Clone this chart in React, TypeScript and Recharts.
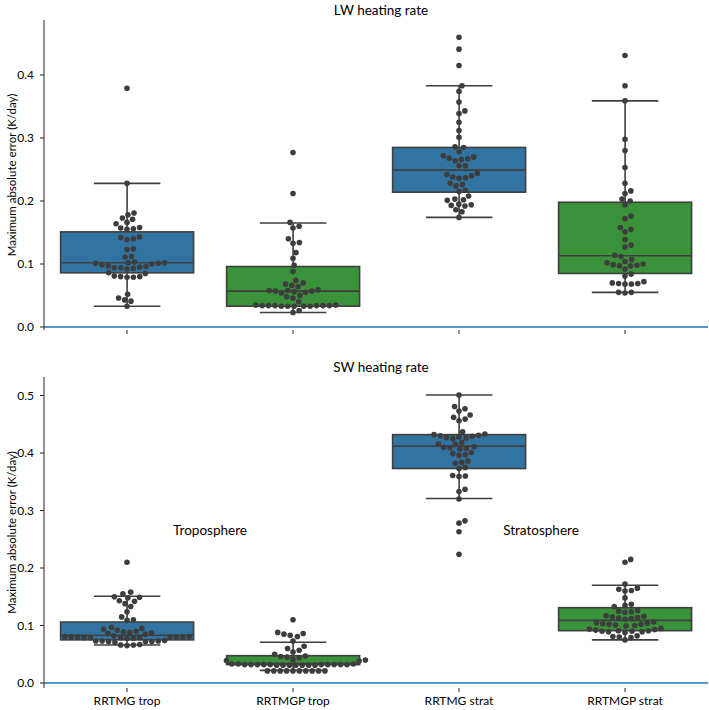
import { ComposedChart, Bar, Scatter, XAxis, YAxis, ReferenceLine } from 'recharts'

const categories = ['RRTMG trop', 'RRTMGP trop', 'RRTMG strat', 'RRTMGP strat']
const boxColors = ['#3274a1', '#3a923a', '#3274a1', '#3a923a']

// box statistics
const lwLow = [0.033, 0.023, 0.174, 0.055]
const lwQ1 = [0.086, 0.033, 0.214, 0.085]
const lwMed = [0.102, 0.057, 0.249, 0.113]
const lwQ3 = [0.151, 0.096, 0.285, 0.198]
const lwHigh = [0.228, 0.165, 0.383, 0.359]

const swLow = [0.066, 0.022, 0.321, 0.075]
const swQ1 = [0.075, 0.032, 0.373, 0.091]
const swMed = [0.083, 0.034, 0.412, 0.109]
const swQ3 = [0.106, 0.0475, 0.432, 0.131]
const swHigh = [0.151, 0.071, 0.501, 0.17]

// individual cases (swarm points)
const lwRrtmgTrop = [
  0.379, 0.228, 0.181, 0.178, 0.173, 0.171, 0.166, 0.164, 0.158, 0.157, 0.156, 0.155, 0.143, 0.142, 0.14,
  0.139, 0.124, 0.123, 0.112, 0.111, 0.103, 0.102, 0.102, 0.101, 0.101, 0.1, 0.099, 0.097, 0.096, 0.095,
  0.094, 0.094, 0.093, 0.092, 0.086, 0.085, 0.081, 0.08, 0.08, 0.079, 0.079, 0.052, 0.046, 0.043, 0.041, 0.033,
]
const lwRrtmgpTrop = [
  0.277, 0.212, 0.166, 0.16, 0.157, 0.14, 0.134, 0.133, 0.118, 0.109, 0.098, 0.088, 0.074, 0.07, 0.068,
  0.066, 0.064, 0.059, 0.058, 0.058, 0.057, 0.057, 0.056, 0.055, 0.054, 0.05, 0.048, 0.046, 0.04, 0.035,
  0.035, 0.034, 0.034, 0.034, 0.034, 0.034, 0.034, 0.033, 0.033, 0.033, 0.033, 0.033, 0.026, 0.023,
]
const lwRrtmgStrat = [
  0.46, 0.441, 0.415, 0.383, 0.374, 0.357, 0.343, 0.339, 0.325, 0.312, 0.301, 0.286, 0.285, 0.278, 0.272,
  0.27, 0.268, 0.267, 0.266, 0.264, 0.256, 0.256, 0.244, 0.242, 0.24, 0.238, 0.237, 0.236, 0.228, 0.226,
  0.224, 0.217, 0.215, 0.208, 0.203, 0.202, 0.201, 0.195, 0.194, 0.193, 0.192, 0.186, 0.183, 0.174,
]
const lwRrtmgpStrat = [
  0.431, 0.383, 0.359, 0.298, 0.28, 0.253, 0.228, 0.216, 0.212, 0.203, 0.2, 0.194, 0.176, 0.172, 0.158,
  0.155, 0.151, 0.139, 0.13, 0.127, 0.114, 0.112, 0.107, 0.104, 0.102, 0.1, 0.099, 0.098, 0.097, 0.097,
  0.092, 0.084, 0.081, 0.072, 0.07, 0.069, 0.069, 0.068, 0.068, 0.055, 0.055, 0.054,
]
const swRrtmgTrop = [
  0.21, 0.158, 0.155, 0.15, 0.149, 0.148, 0.143, 0.142, 0.138, 0.133, 0.124, 0.115, 0.11, 0.109, 0.097,
  0.095, 0.094, 0.092, 0.09, 0.089, 0.088, 0.087, 0.086, 0.085, 0.082, 0.081, 0.081, 0.08, 0.08, 0.08,
  0.08, 0.08, 0.079, 0.079, 0.079, 0.079, 0.078, 0.078, 0.074, 0.073, 0.073, 0.073, 0.072, 0.072, 0.072,
  0.071, 0.067, 0.066, 0.066, 0.065,
]
const swRrtmgpTrop = [
  0.11, 0.088, 0.086, 0.085, 0.083, 0.081, 0.073, 0.064, 0.06, 0.057, 0.054, 0.05, 0.047, 0.046, 0.045,
  0.044, 0.041, 0.04, 0.039, 0.038, 0.033, 0.033, 0.033, 0.032, 0.032, 0.032, 0.032, 0.032, 0.032, 0.032,
  0.032, 0.032, 0.032, 0.031, 0.031, 0.031, 0.031, 0.031, 0.031, 0.031, 0.021, 0.021, 0.021, 0.021,
  0.021, 0.021, 0.021, 0.021, 0.021, 0.021,
]
const swRrtmgStrat = [
  0.501, 0.481, 0.477, 0.473, 0.466, 0.462, 0.459, 0.456, 0.437, 0.433, 0.432, 0.431, 0.43, 0.429, 0.428,
  0.427, 0.426, 0.425, 0.418, 0.416, 0.415, 0.411, 0.41, 0.409, 0.408, 0.407, 0.401, 0.399, 0.397, 0.396,
  0.386, 0.384, 0.382, 0.375, 0.373, 0.361, 0.36, 0.359, 0.337, 0.333, 0.32, 0.282, 0.278, 0.263, 0.224,
]
const swRrtmgpStrat = [
  0.215, 0.21, 0.172, 0.165, 0.163, 0.161, 0.16, 0.148, 0.137, 0.135, 0.133, 0.126, 0.125, 0.124, 0.123,
  0.117, 0.116, 0.115, 0.114, 0.113, 0.112, 0.111, 0.106, 0.105, 0.104, 0.103, 0.102, 0.102, 0.101, 0.1,
  0.099, 0.095, 0.094, 0.093, 0.092, 0.091, 0.091, 0.09, 0.09, 0.089, 0.089, 0.088, 0.082, 0.081, 0.08,
  0.079, 0.075,
]

const lwTicks = [0, 0.1, 0.2, 0.3, 0.4]
const swTicks = [0, 0.1, 0.2, 0.3, 0.4, 0.5]

const W = 709
const AXIS_W = 44
const RIGHT = 1
const BAND = (W - AXIS_W - RIGHT) / categories.length
const DOT_D = 6.4
const EDGE = '#3f3f3f'
const DOT = '#3d3d3d'
const FONT = 'Lato, "Open Sans", sans-serif'
const Y_LABEL = 'Maximum absolute error (K/day)'

// seaborn-like swarm: place points bottom-up, as near the centre as they fit
function swarm(values: number[], pxPerUnit: number): number[] {
  const order = values.map((_, i) => i).sort((a, b) => values[a] - values[b])
  const placed: { x: number; y: number }[] = []
  const offs: number[] = new Array(values.length).fill(0)
  for (const i of order) {
    const y = values[i] * pxPerUnit
    const near = placed.filter(p => Math.abs(p.y - y) < DOT_D)
    const cands = [0]
    for (const p of near) {
      const dx = Math.sqrt(DOT_D * DOT_D - (p.y - y) ** 2)
      cands.push(p.x + dx, p.x - dx)
    }
    cands.sort((a, b) => Math.abs(a) - Math.abs(b))
    let x = 0
    for (const c of cands) {
      if (near.every(p => (p.x - c) ** 2 + (p.y - y) ** 2 >= DOT_D * DOT_D - 1e-6)) {
        x = c
        break
      }
    }
    placed.push({ x, y })
    offs[i] = x
  }
  return offs
}

function BoxShape(props: any) {
  const { x, y, width, height, payload } = props
  const { q1, q3, med, lo, hi, color } = payload
  const k = height / (q3 - q1)
  const yOf = (v: number) => y + (q3 - v) * k
  const cx = x + width / 2
  const cap = width / 4
  return (
    <g>
      <line x1={cx} x2={cx} y1={yOf(hi)} y2={yOf(lo)} stroke={EDGE} strokeWidth={1.6} />
      <line x1={cx - cap} x2={cx + cap} y1={yOf(hi)} y2={yOf(hi)} stroke={EDGE} strokeWidth={1.6} />
      <line x1={cx - cap} x2={cx + cap} y1={yOf(lo)} y2={yOf(lo)} stroke={EDGE} strokeWidth={1.6} />
      <rect x={x} y={y} width={width} height={height} fill={color} stroke={EDGE} strokeWidth={1.6} />
      <line x1={x} x2={x + width} y1={yOf(med)} y2={yOf(med)} stroke={EDGE} strokeWidth={1.6} />
    </g>
  )
}

const Dot = (p: any) => <circle cx={p.cx} cy={p.cy} r={2.8} fill={DOT} />

const YLabel = (props: any) => {
  const vb = props.viewBox
  const cy = vb.y + vb.height / 2
  return (
    <text
      x={11}
      y={cy}
      transform={`rotate(-90 11 ${cy})`}
      textAnchor="middle"
      dominantBaseline="central"
      fontSize={11.5}
      fill="#000"
    >
      {Y_LABEL}
    </text>
  )
}

interface PanelProps {
  height: number
  top: number
  axisH: number
  domain: [number, number]
  ticks: number[]
  low: number[]
  q1: number[]
  med: number[]
  q3: number[]
  high: number[]
  groups: number[][]
  showLabels: boolean
}

function Panel(p: PanelProps) {
  const plotH = p.height - p.top - p.axisH
  const pxPerUnit = plotH / (p.domain[1] - p.domain[0])
  const rows = categories.map((name, i) => ({
    name,
    lo: p.low[i],
    q1: p.q1[i],
    med: p.med[i],
    q3: p.q3[i],
    hi: p.high[i],
    color: boxColors[i],
  }))
  const points = p.groups.flatMap((vals, i) => {
    const offs = swarm(vals, pxPerUnit)
    return vals.map((v, j) => ({ x: i + offs[j] / BAND, y: v }))
  })
  return (
    <ComposedChart
      width={W}
      height={p.height}
      data={rows}
      margin={{ top: p.top, right: RIGHT, bottom: 0, left: 0 }}
      barCategoryGap="10%"
    >
      <XAxis
        xAxisId="cat"
        dataKey="name"
        type="category"
        height={p.axisH}
        axisLine={false}
        tickLine={{ stroke: '#262626' }}
        tickSize={4}
        tickMargin={4}
        tick={{ fontSize: 12, fill: '#000' }}
        tickFormatter={(v: string) => (p.showLabels ? v : '')}
        interval={0}
      />
      <XAxis xAxisId="num" dataKey="x" type="number" domain={[-0.5, 3.5]} allowDataOverflow hide />
      <YAxis
        width={AXIS_W}
        domain={p.domain}
        allowDataOverflow
        ticks={p.ticks}
        tickFormatter={(v: number) => v.toFixed(1)}
        tickSize={4}
        tickMargin={6}
        axisLine={{ stroke: '#262626' }}
        tickLine={{ stroke: '#262626' }}
        tick={{ fontSize: 12, fill: '#000' }}
        label={YLabel}
      />
      <ReferenceLine xAxisId="cat" y={0} stroke="#1f77b4" strokeWidth={1.6} />
      <Bar
        xAxisId="cat"
        dataKey={(d: any) => [d.q1, d.q3]}
        shape={BoxShape}
        isAnimationActive={false}
      />
      <Scatter xAxisId="num" data={points} dataKey="y" shape={Dot} isAnimationActive={false} />
    </ComposedChart>
  )
}

const textStyle = (x: number, y: number, size: number): React.CSSProperties => ({
  position: 'absolute',
  left: x,
  top: y,
  transform: 'translate(-50%, -50%)',
  fontSize: size,
  whiteSpace: 'nowrap',
  color: '#000',
})

export default function App() {
  return (
    <div style={{ position: 'absolute', left: 0, top: 0, width: W, height: 710, fontFamily: FONT, background: '#fff' }}>
      <div style={{ position: 'absolute', left: 0, top: 0 }}>
        <Panel
          height={345}
          top={20}
          axisH={15}
          domain={[-0.00476, 0.4873]}
          ticks={lwTicks}
          low={lwLow}
          q1={lwQ1}
          med={lwMed}
          q3={lwQ3}
          high={lwHigh}
          groups={[lwRrtmgTrop, lwRrtmgpTrop, lwRrtmgStrat, lwRrtmgpStrat]}
          showLabels={false}
        />
      </div>
      <div style={{ position: 'absolute', left: 0, top: 345 }}>
        <Panel
          height={365}
          top={32}
          axisH={22}
          domain={[-0.0087, 0.5322]}
          ticks={swTicks}
          low={swLow}
          q1={swQ1}
          med={swMed}
          q3={swQ3}
          high={swHigh}
          groups={[swRrtmgTrop, swRrtmgpTrop, swRrtmgStrat, swRrtmgpStrat]}
          showLabels
        />
      </div>
      <div style={textStyle(381, 10, 13.5)}>LW heating rate</div>
      <div style={textStyle(381, 367, 13.5)}>SW heating rate</div>
      <div style={textStyle(210, 530, 13.5)}>Troposphere</div>
      <div style={textStyle(541, 530, 13.5)}>Stratosphere</div>
    </div>
  )
}
